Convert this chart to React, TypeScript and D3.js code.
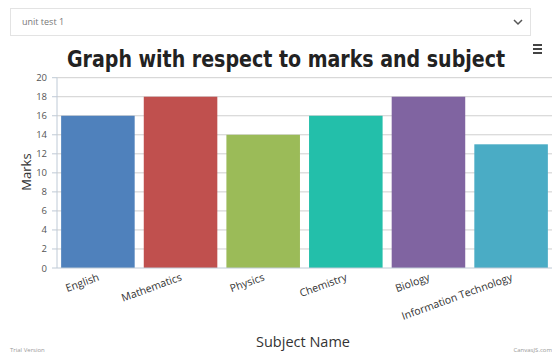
import React from "react";
import * as d3 from "d3";

const subjects = ["English", "Mathematics", "Physics", "Chemistry", "Biology", "Information Technology"];
const marks = [16, 18, 14, 16, 18, 13];
const colors = ["#4F81BC", "#C0504E", "#9BBB58", "#23BFAA", "#8064A1", "#4AACC5"];
const yTicks = [0, 2, 4, 6, 8, 10, 12, 14, 16, 18, 20];

export default function App() {
  const W = 552, H = 360;
  const left = 57, right = 552, top = 77.7, bottom = 268;
  const x = d3.scaleBand<string>().domain(subjects).range([left, right]).paddingInner(0.11).paddingOuter(0.05);
  const y = d3.scaleLinear().domain([0, 20]).range([bottom, top]);
  return (
    <div style={{ position: "absolute", left: 0, top: 0 }}>
      <svg width={W} height={H} style={{ display: "block", background: "#fff" }}>
        {/* dropdown */}
        <rect x={10.5} y={8.5} width={520} height={27} fill="#fff" stroke="#e3e3e3" />
        <text x={22} y={25} fontFamily="Open Sans, sans-serif" fontSize={9} fill="#777">unit test 1</text>
        <path d="M514,20 L518,24 L522,20" fill="none" stroke="#555" strokeWidth={1.5} />
        {/* title */}
        <text x={286} y={67} textAnchor="middle" fontFamily="DejaVu Sans Condensed, DejaVu Sans" fontWeight="bold"
          fontSize={23} fill="#222" textLength={438} lengthAdjust="spacingAndGlyphs">
          Graph with respect to marks and subject
        </text>
        {/* hamburger */}
        {[0, 4, 8].map((d) => (
          <rect key={d} x={533} y={44 + d} width={9} height={2} fill="#444" />
        ))}
        {/* gridlines */}
        {yTicks.filter((t) => t > 0).map((t) => (
          <line key={t} x1={left} x2={right} y1={y(t)} y2={y(t)} stroke="#cfcfcf" strokeWidth={1} />
        ))}
        {/* bars */}
        {subjects.map((s, i) => (
          <rect key={s} x={x(s)} y={y(marks[i])} width={x.bandwidth()} height={bottom - y(marks[i])} fill={colors[i]} />
        ))}
        {/* axes */}
        <line x1={left} x2={left} y1={top} y2={bottom} stroke="#bfcad6" strokeWidth={1} />
        <line x1={left} x2={right} y1={bottom} y2={bottom} stroke="#bfcad6" strokeWidth={1} />
        {yTicks.map((t) => (
          <g key={t}>
            <line x1={left - 5} x2={left} y1={y(t)} y2={y(t)} stroke="#bfcad6" />
            <text x={47} y={y(t) + 3.5} textAnchor="end" fontFamily="Open Sans, sans-serif" fontSize={9.5} fill="#555">{t}</text>
          </g>
        ))}
        {subjects.map((s) => {
          const cx = (x(s) as number) + x.bandwidth() / 2 + 2;
          return (
            <text key={s} transform={`translate(${cx},${bottom + 12}) rotate(-20)`} textAnchor="end"
              fontFamily="Open Sans, sans-serif" fontSize={10.5} fill="#333">{s}</text>
          );
        })}
        <text transform={`translate(31,${172}) rotate(-90)`} textAnchor="middle"
          fontFamily="Open Sans, sans-serif" fontSize={13} fill="#333">Marks</text>
        <text x={303} y={347} textAnchor="middle" fontFamily="Open Sans, sans-serif" fontSize={14.5} fill="#333">Subject Name</text>
        <text x={10} y={352} fontFamily="Open Sans, sans-serif" fontSize={6} fill="#999">Trial Version</text>
        <text x={552} y={352} textAnchor="end" fontFamily="Open Sans, sans-serif" fontSize={6} fill="#999">CanvasJS.com</text>
      </svg>
    </div>
  );
}
